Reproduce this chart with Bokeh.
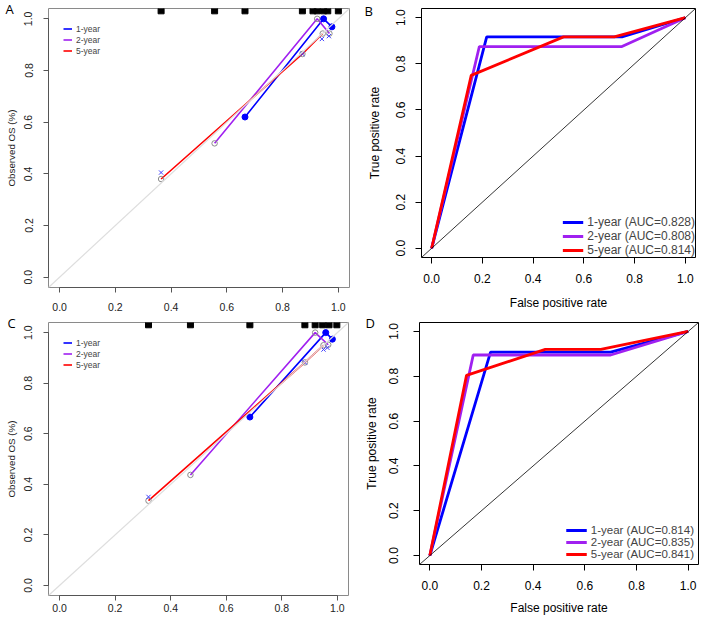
from bokeh.plotting import figure
from bokeh.layouts import column, row
from bokeh.models import Slope, Legend, LegendItem, Label, Range1d, FixedTicker
from bokeh.embed import file_html
from bokeh.resources import INLINE

# ---------------- data ----------------
TICKS = [0.0, 0.2, 0.4, 0.6, 0.8, 1.0]
TICK_LABELS = ["0.0", "0.2", "0.4", "0.6", "0.8", "1.0"]
SERIES = ["1-year", "2-year", "5-year"]

# Panel A: calibration (predicted vs observed OS)
A_pred_1y = [0.665, 0.947, 0.977]
A_obs_1y = [0.620, 1.000, 0.969]
A_pred_2y = [0.556, 0.924, 0.968]
A_obs_2y = [0.518, 1.000, 0.943]
A_pred_5y = [0.364, 0.871, 0.944]
A_obs_5y = [0.380, 0.864, 0.943]
A_bc_pred = [0.364, 0.871, 0.941, 0.966]
A_bc_obs = [0.405, 0.864, 0.922, 0.933]
A_rug = [0.364, 0.556, 0.665, 0.871, 0.909, 0.924, 0.947, 0.962, 1.0]

# Panel C: calibration
C_pred_1y = [0.685, 0.958, 0.982]
C_obs_1y = [0.666, 1.000, 0.974]
C_pred_2y = [0.471, 0.920, 0.967]
C_obs_2y = [0.437, 1.000, 0.952]
C_pred_5y = [0.320, 0.883, 0.950]
C_obs_5y = [0.335, 0.882, 0.950]
C_bc_pred = [0.320, 0.883, 0.950, 0.964]
C_bc_obs = [0.350, 0.882, 0.933, 0.940]
C_rug = [0.320, 0.471, 0.685, 0.883, 0.920, 0.947, 0.970, 0.998]

# Panel B: ROC
B_fpr_1y = [0.0, 0.217, 0.750, 1.0]
B_tpr_1y = [0.0, 0.917, 0.917, 1.0]
B_fpr_2y = [0.0, 0.188, 0.750, 1.0]
B_tpr_2y = [0.0, 0.875, 0.875, 1.0]
B_fpr_5y = [0.0, 0.156, 0.520, 0.720, 1.0]
B_tpr_5y = [0.0, 0.750, 0.917, 0.917, 1.0]
B_auc = [0.828, 0.808, 0.814]

# Panel D: ROC
D_fpr_1y = [0.0, 0.235, 0.700, 1.0]
D_tpr_1y = [0.0, 0.908, 0.908, 1.0]
D_fpr_2y = [0.0, 0.168, 0.700, 1.0]
D_tpr_2y = [0.0, 0.895, 0.895, 1.0]
D_fpr_5y = [0.0, 0.142, 0.447, 0.662, 1.0]
D_tpr_5y = [0.0, 0.804, 0.920, 0.920, 1.0]
D_auc = [0.814, 0.835, 0.841]

# ---------------- styles ----------------
BLUE = "#0000ff"
PURPLE = "#a020f0"
RED = "#ff0000"
FONT = "Liberation Sans"
LETTER_FONT = "Open Sans"
RANGE = (-0.04, 1.04)


def style_axes(p, tick_size, title_size, tick_out, xstand, xtitle, ystand, ytitle,
               axis_color, text_color="#000000"):
    for ax, ls, ts in ((p.xaxis[0], xstand, xtitle), (p.yaxis[0], ystand, ytitle)):
        ax.ticker = FixedTicker(ticks=TICKS)
        ax.major_label_overrides = {t: l for t, l in zip(TICKS, TICK_LABELS)}
        ax.bounds = (0, 1)
        ax.minor_tick_line_color = None
        ax.major_tick_in = 0
        ax.major_tick_out = tick_out
        ax.major_tick_line_color = axis_color
        ax.axis_line_color = axis_color
        ax.major_label_text_font = FONT
        ax.major_label_text_font_size = tick_size
        ax.major_label_text_color = text_color
        ax.major_label_standoff = ls
        ax.axis_label_text_font = FONT
        ax.axis_label_text_font_size = title_size
        ax.axis_label_text_font_style = "normal"
        ax.axis_label_text_color = text_color
        ax.axis_label_standoff = ts
    p.yaxis[0].major_label_orientation = "parallel"
    p.xgrid.grid_line_color = None
    p.ygrid.grid_line_color = None


def letter(p, txt, cx, cy):
    # placed in a side panel so that it is not clipped to the plot frame
    p.add_layout(Label(text=txt, x=cx, y=cy, x_units="canvas", y_units="canvas",
                       text_font=LETTER_FONT, text_font_size="13px",
                       text_align="left", text_baseline="top", text_color="#000000"),
                 "right")


def calib_panel(pred, obs, bc_pred, bc_obs, rug, ml, fw, mr, mt, fh, mb, xstand):
    p = figure(frame_width=fw, frame_height=fh, min_border_left=ml, min_border_right=mr,
               min_border_top=mt, min_border_bottom=mb, x_range=Range1d(*RANGE),
               y_range=Range1d(*RANGE), output_backend="svg", toolbar_location=None,
               background_fill_color="white", border_fill_color="white")
    p.outline_line_color = "#8a8a8a"
    p.outline_line_width = 1
    p.add_layout(Slope(gradient=1, y_intercept=0, line_color="#dedede", line_width=1.2))
    colors = [BLUE, PURPLE, RED]
    rends = []
    for i in range(3):
        r = p.line(pred[i], obs[i], line_color=colors[i], line_width=1.6)
        rends.append(r)
    p.scatter(pred[1], obs[1], marker="circle", size=5.5, fill_color=None,
              line_color="#8c8c8c", line_width=1)
    p.scatter(pred[2], obs[2], marker="circle", size=5.5, fill_color=None,
              line_color="#8c8c8c", line_width=1)
    p.scatter(pred[0], obs[0], marker="circle", size=6, fill_color=BLUE,
              line_color=BLUE)
    p.scatter(bc_pred, bc_obs, marker="x", size=6, line_color="#4040ff", line_width=1)
    rug_y = [RANGE[1] - 0.009] * len(rug)
    p.scatter(rug, rug_y, marker="square", size=6, fill_color="black", line_color="black")
    items = [LegendItem(label=SERIES[i], renderers=[rends[i]]) for i in range(3)]
    leg = Legend(items=items, location="top_left", margin=15, padding=0, spacing=0,
                 glyph_width=9, glyph_height=9, label_height=11, label_standoff=4,
                 label_text_font=FONT, label_text_font_size="8.5px",
                 label_text_line_height=1.0,
                 border_line_color=None, background_fill_alpha=0)
    p.add_layout(leg)
    style_axes(p, "10.5px", "9.75px", 5, xstand, 5, 11, 5, "#555555", "#222222")
    p.yaxis[0].axis_label = "Observed OS (%)"
    return p


def roc_panel(fprs, tprs, aucs, ml, fw, mr, mt, fh, mb, stands, leg_font, leg_margin):
    p = figure(frame_width=fw, frame_height=fh, min_border_left=ml, min_border_right=mr,
               min_border_top=mt, min_border_bottom=mb, x_range=Range1d(*RANGE),
               y_range=Range1d(*RANGE), output_backend="svg", toolbar_location=None,
               background_fill_color="white", border_fill_color="white")
    p.outline_line_color = "#000000"
    p.outline_line_width = 1
    p.add_layout(Slope(gradient=1, y_intercept=0, line_color="#000000", line_width=0.8))
    colors = [BLUE, PURPLE, RED]
    items = []
    for i in range(3):
        r = p.line(fprs[i], tprs[i], line_color=colors[i], line_width=2.8)
        items.append(LegendItem(label="%s (AUC=%.3f)" % (SERIES[i], aucs[i]), renderers=[r]))
    p.add_layout(Legend(items=items, location="bottom_right", margin=leg_margin, padding=1,
                        spacing=0, glyph_width=21, glyph_height=10, label_height=10,
                        label_standoff=4, label_text_font=FONT,
                        label_text_font_size=leg_font,
                        border_line_color=None, background_fill_alpha=0))
    style_axes(p, "12px", "12px", 6, *stands, "#000000")
    p.xaxis[0].axis_label = "False positive rate"
    p.yaxis[0].axis_label = "True positive rate"
    return p


# row 1: page y 0..313 ; row 2: page y 313..616
pA = calib_panel([A_pred_1y, A_pred_2y, A_pred_5y], [A_obs_1y, A_obs_2y, A_obs_5y],
                 A_bc_pred, A_bc_obs, A_rug, 48, 301, 12, 7, 279, 27, 10)
letter(pA, "A", 5, -1)
pB = roc_panel([B_fpr_1y, B_fpr_2y, B_fpr_5y], [B_tpr_1y, B_tpr_2y, B_tpr_5y], B_auc,
               60, 274, 0, 8, 249, 56, (10, 10, 10, 12), "12px", 0)
letter(pB, "B", 3, 1)
pC = calib_panel([C_pred_1y, C_pred_2y, C_pred_5y], [C_obs_1y, C_obs_2y, C_obs_5y],
                 C_bc_pred, C_bc_obs, C_rug, 48, 300, 13, 5, 273, 25, 3)
letter(pC, "C", 7, 0)
pD = roc_panel([D_fpr_1y, D_fpr_2y, D_fpr_5y], [D_tpr_1y, D_tpr_2y, D_tpr_5y], D_auc,
               55, 279, 10, 9, 242, 52, (10, 8, 15, 8), "11.5px", 4)
letter(pD, "D", 4, 0)

layout = column(row(pA, pB), row(pC, pD))
open("out.html", "w").write(file_html(layout, INLINE))
